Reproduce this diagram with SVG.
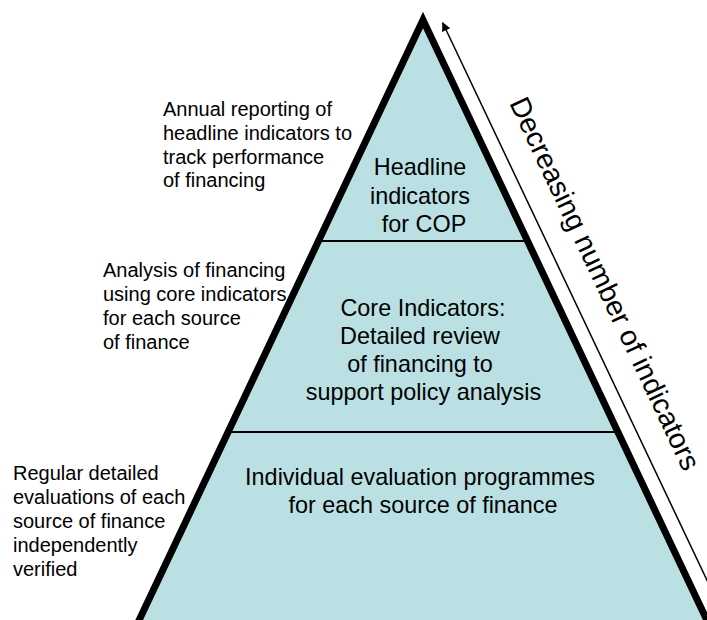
<svg xmlns="http://www.w3.org/2000/svg" width="707" height="620" viewBox="0 0 707 620">
  <style>
    .t { font-family: "Liberation Sans", Arial, sans-serif; fill: #000; }
    .side { font-size: 20px; }
    .inner { font-size: 23.4px; text-anchor: middle; }
    .axis { font-size: 28.4px; }
    .div { stroke: #000; stroke-width: 2; }
  </style>
  <defs>
    <marker id="ah" viewBox="0 0 10 10" refX="9" refY="5" markerWidth="10" markerHeight="9" markerUnits="userSpaceOnUse" orient="auto-start-reverse">
      <path d="M0,0 L10,5 L0,10 z" fill="#000"/>
    </marker>
  </defs>
  <rect width="707" height="620" fill="#fff"/>

  <g id="pyramid">
    <polygon points="423,20 735.2,680 110.8,680" fill="#BAE0E3" stroke="#000" stroke-width="7" stroke-linejoin="miter" stroke-miterlimit="10"/>
  </g>

  <g id="tier-headline">
    <line class="div" x1="318.5" y1="241" x2="527.5" y2="241"/>
    <text class="t inner" x="420" y="175">Headline</text>
    <text class="t inner" x="420" y="204">indicators</text>
    <text class="t inner" x="424" y="232">for COP</text>
  </g>

  <g id="tier-core">
    <line class="div" x1="228" y1="432" x2="618" y2="432"/>
    <text class="t inner" x="423" y="316">Core Indicators:</text>
    <text class="t inner" x="420" y="344">Detailed review</text>
    <text class="t inner" x="420" y="372">of financing to</text>
    <text class="t inner" x="423.5" y="400">support policy analysis</text>
  </g>

  <g id="tier-individual">
    <text class="t inner" x="420" y="485">Individual evaluation programmes</text>
    <text class="t inner" x="423" y="513">for each source of finance</text>
  </g>

  <g id="label-headline">
    <text class="t side" x="163" y="116">Annual reporting of</text>
    <text class="t side" x="163" y="140">headline indicators to</text>
    <text class="t side" x="163" y="163.5">track performance</text>
    <text class="t side" x="163" y="187">of financing</text>
  </g>

  <g id="label-core">
    <text class="t side" x="103" y="277">Analysis of financing</text>
    <text class="t side" x="103" y="300.5">using core indicators</text>
    <text class="t side" x="103" y="324.5">for each source</text>
    <text class="t side" x="103" y="348.5">of finance</text>
  </g>

  <g id="label-individual">
    <text class="t side" x="13" y="480">Regular detailed</text>
    <text class="t side" x="13" y="504">evaluations of each</text>
    <text class="t side" x="13" y="528">source of finance</text>
    <text class="t side" x="13" y="552">independently</text>
    <text class="t side" x="13" y="576">verified</text>
  </g>

  <g id="connectors">
    <line x1="735.3" y1="640" x2="442.7" y2="22.7" stroke="#000" stroke-width="1.5" marker-end="url(#ah)"/>
  </g>

  <g id="axis-label">
    <text class="t axis" transform="translate(509,103) rotate(64.7)" x="0" y="0">Decreasing number of indicators</text>
  </g>
</svg>
